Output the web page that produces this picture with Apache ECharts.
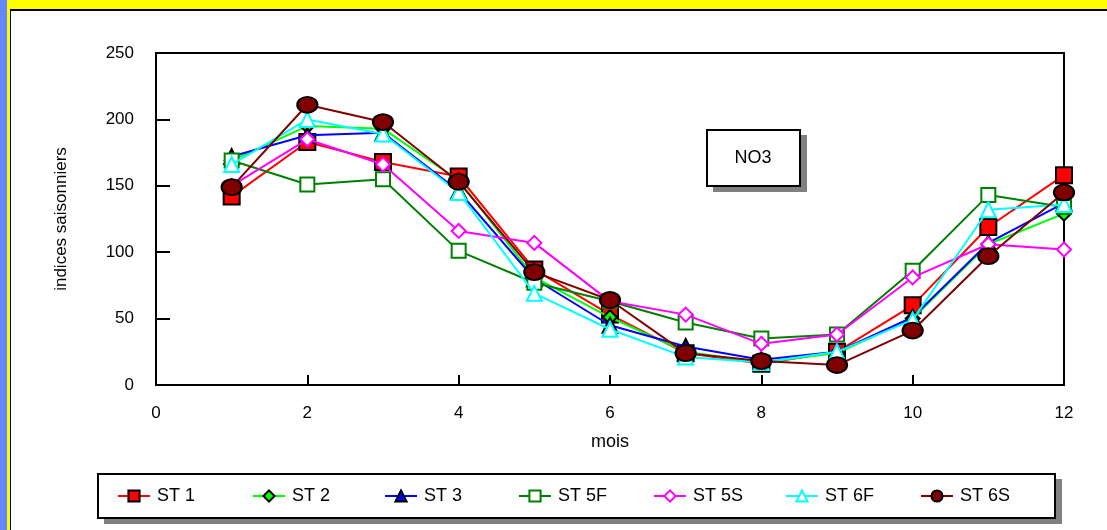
<!DOCTYPE html>
<html>
<head>
<meta charset="utf-8">
<script src="https://cdn.jsdelivr.net/npm/echarts@6/dist/echarts.min.js"></script>
<style>
html,body{margin:0;padding:0;background:#fff;}
#chart{width:1107px;height:530px;}
</style>
</head>
<body>
<div id="chart"></div>
<script>
const months = [1,2,3,4,5,6,7,8,9,10,11,12];
const seriesNames = ['ST 1','ST 2','ST 3','ST 5F','ST 5S','ST 6F','ST 6S'];
const st1  = [142,183,168,157,87,53,24,16,25,60,119,158];
const st2  = [169,195,193,154,81,51,25,17,24,50,106,129];
const st3  = [172,188,190,146,80,45,29,19,25,51,107,137];
const st5F = [169,151,155,101,77,63,47,35,38,86,143,134];
const st5S = [150,185,166,116,107,63,53,31,38,81,106,102];
const st6F = [166,200,189,145,69,42,21,17,25,49,132,136];
const st6S = [149,211,198,153,85,64,24,18,15,41,97,145];
const yTicks = [0,50,100,150,200,250];
const xTicks = [0,2,4,6,8,10,12];
const allValues = [st1,st2,st3,st5F,st5S,st6F,st6S];

const styles = [
  {symbol:'rect', size:16, fill:'#FF0000', border:'#000000', line:'#FF0000'},
  {symbol:'diamond', size:14, fill:'#00FF00', border:'#000000', line:'#00FF00'},
  {symbol:'triangle', size:15, fill:'#0000FF', border:'#000000', line:'#0000FF'},
  {symbol:'rect', size:14, fill:'#FFFFFF', border:'#008000', line:'#008000'},
  {symbol:'diamond', size:14, fill:'#FFFFFF', border:'#FF00FF', line:'#FF00FF'},
  {symbol:'triangle', size:15, fill:'#FFFFFF', border:'#00FFFF', line:'#00FFFF'},
  {symbol:'circle', size:[20,16], fill:'#800000', border:'#000000', line:'#800000'}
];
const legendLefts = [117,252,384,518,653,785,920];

const FONT = '"Liberation Sans", Arial, sans-serif';

const series = seriesNames.map((name,i)=>({
  name: name,
  type: 'line',
  data: months.map((m,j)=>[m, allValues[i][j]]),
  symbol: styles[i].symbol,
  symbolSize: styles[i].size,
  lineStyle: {color: styles[i].line, width: 2},
  itemStyle: {color: styles[i].fill, borderColor: styles[i].border, borderWidth: 2},
  emphasis: {disabled: true},
  animation: false,
  z: 3 + i
}));

const legends = seriesNames.map((name,i)=>({
  data: [name],
  left: legendLefts[i],
  top: 487,
  itemWidth: 32,
  itemHeight: 14,
  itemGap: 0,
  padding: 0,
  selectedMode: false,
  textStyle: {fontFamily: FONT, fontSize: 18, color: '#000', padding:[0,0,0,2]}
}));

const chart = echarts.init(document.getElementById('chart'), null, {renderer:'canvas'});
chart.setOption({
  animation: false,
  backgroundColor: '#FFFF00',
  graphic: [
    {type:'rect', shape:{x:0,y:0,width:7,height:530}, style:{fill:'#6688FF'}, z:-10},
    {type:'rect', shape:{x:10,y:9,width:1097,height:521}, style:{fill:'#000000'}, z:-9},
    {type:'rect', shape:{x:11,y:11,width:1096,height:519}, style:{fill:'#FFFFFF'}, z:-8},
    // NO3 box
    {type:'rect', shape:{x:713,y:135,width:94,height:57}, style:{fill:'#808080'}, z:50},
    {type:'rect', shape:{x:707,y:130,width:93,height:56}, style:{fill:'#FFFFFF', stroke:'#000000', lineWidth:2}, z:51},
    {type:'text', x:753, y:158, style:{text:'NO3', fontFamily:FONT, fontSize:18, fill:'#000', align:'center', verticalAlign:'middle'}, z:52},
    // legend box
    {type:'rect', shape:{x:104,y:479,width:958,height:45}, style:{fill:'#808080'}, z:-5},
    {type:'rect', shape:{x:98,y:474,width:957,height:44}, style:{fill:'#FFFFFF', stroke:'#000000', lineWidth:2}, z:-4}
  ],
  legend: legends,
  grid: {left:156, top:53, right:43, bottom:145, show:true, borderColor:'#000', borderWidth:2, backgroundColor:'#fff'},
  xAxis: {
    type:'value', min:0, max:12, interval:2,
    name:'mois', nameLocation:'middle', nameGap:48,
    nameTextStyle:{fontFamily:FONT, fontSize:18, color:'#000'},
    axisLine:{show:true, lineStyle:{color:'#000', width:2}},
    axisTick:{show:true, inside:true, length:10, lineStyle:{color:'#000', width:2}},
    axisLabel:{fontFamily:FONT, fontSize:17, color:'#000', margin:20,
      formatter: v => xTicks.includes(v) ? String(v) : ''},
    splitLine:{show:false}
  },
  yAxis: {
    type:'value', min:0, max:250, interval:50,
    name:'indices saisonniers', nameLocation:'middle', nameGap:86, nameRotate:90,
    nameTextStyle:{fontFamily:FONT, fontSize:17, color:'#000'},
    axisLine:{show:true, lineStyle:{color:'#000', width:2}},
    axisTick:{show:true, inside:true, length:14, lineStyle:{color:'#000', width:2}},
    axisLabel:{fontFamily:FONT, fontSize:17, color:'#000', margin:22,
      formatter: v => yTicks.includes(v) ? String(v) : ''},
    splitLine:{show:false}
  },
  series: series
});
</script>
</body>
</html>
